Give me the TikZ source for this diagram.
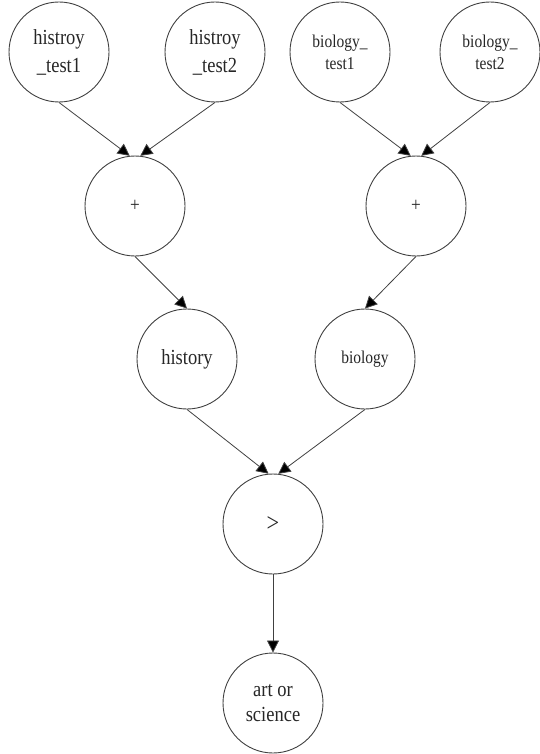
\documentclass[tikz,border=0pt]{standalone}
\usepackage{fontspec}
\setmainfont{Liberation Serif}[FakeStretch=0.86]
\usetikzlibrary{arrows.meta}
\begin{document}
\begin{tikzpicture}[x=1pt,y=-1pt,
  opnode/.style={circle, draw=black!75, line width=0.9pt, minimum size=100pt,
    inner sep=0pt, align=center, text=black!85},
  bigtxt/.style={font=\fontsize{21.5}{28}\selectfont},
  midtxt/.style={font=\fontsize{18}{22}\selectfont},
  smalltxt/.style={font=\fontsize{20}{22}\selectfont},
  link/.style={draw=black!75, line width=0.8pt,
    -{Triangle[length=12pt,width=12pt,fill=black]}}]
  \useasboundingbox (0,0) rectangle (540,754);

  % input variables
  \node[opnode, bigtxt] (h1) at (59,52) {histroy\\\_test1};
  \node[opnode, bigtxt] (h2) at (215,52) {histroy\\\_test2};
  \node[opnode, midtxt] (b1) at (340,52) {biology\_\\test1};
  \node[opnode, midtxt] (b2) at (490,52) {biology\_\\test2};

  % sums
  \node[opnode, smalltxt] (p1) at (135,206) {+};
  \node[opnode, smalltxt] (p2) at (416,206) {+};

  % totals
  \node[opnode, bigtxt] (hist) at (187,359) {history};
  \node[opnode, midtxt] (bio) at (365,359) {biology};

  % comparison and result
  \node[opnode, font=\fontsize{26}{28}\selectfont] (gt) at (273,524) {>};
  \node[opnode, font=\fontsize{21.5}{25}\selectfont] (art) at (273,703) {art or\\science};

  % connectors
  \draw[link] (h1.south) -- (p1.96);
  \draw[link] (h2.south) -- (p1.84);
  \draw[link] (b1.south) -- (p2.96);
  \draw[link] (b2.south) -- (p2.84);
  \draw[link] (p1.south) -- (hist.north);
  \draw[link] (p2.south) -- (bio.north);
  \draw[link] (hist.south) -- (gt.95);
  \draw[link] (bio.south) -- (gt.84);
  \draw[link] (gt.south) -- (art.north);
\end{tikzpicture}
\end{document}
